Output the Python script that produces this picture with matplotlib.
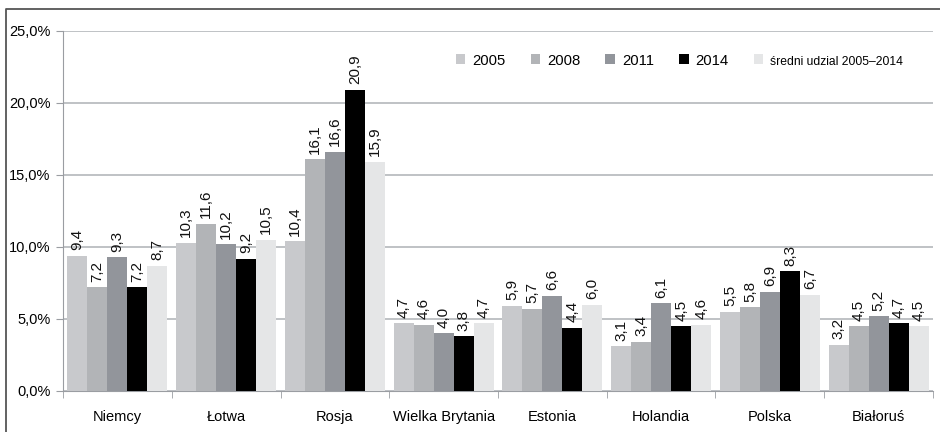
import numpy as np
import matplotlib.pyplot as plt
from matplotlib.lines import Line2D

plt.rcParams['font.family'] = ['Liberation Sans', 'DejaVu Sans']

countries = ['Niemcy', 'Łotwa', 'Rosja', 'Wielka Brytania', 'Estonia', 'Holandia', 'Polska', 'Białoruś']
series_names = ['2005', '2008', '2011', '2014', 'średni udzial 2005–2014']
v2005 = [9.4, 10.3, 10.4, 4.7, 5.9, 3.1, 5.5, 3.2]
v2008 = [7.2, 11.6, 16.1, 4.6, 5.7, 3.4, 5.8, 4.5]
v2011 = [9.3, 10.2, 16.6, 4.0, 6.6, 6.1, 6.9, 5.2]
v2014 = [7.2, 9.2, 20.9, 3.8, 4.4, 4.5, 8.3, 4.7]
vavg = [8.7, 10.5, 15.9, 4.7, 6.0, 4.6, 6.7, 4.5]
colors = ['#c8c9cc', '#b2b4b7', '#92959b', '#000000', '#e5e6e7']

fig = plt.figure(figsize=(9.4, 4.32), dpi=100)
ax = fig.add_axes([63 / 940, 1 - 391 / 432, 870 / 940, 360 / 432])

# outer frame: only top and left edges are visible in the picture
fig.add_artist(Line2D([6 / 940, 6 / 940, 1.0], [0.0, 1 - 9 / 432, 1 - 9 / 432],
                      transform=fig.transFigure, color='#555555', linewidth=1.3))

x = np.arange(len(countries))
w = 0.184
all_series = [v2005, v2008, v2011, v2014, vavg]
for i, vals in enumerate(all_series):
    pos = x + (i - 2) * w
    ax.bar(pos, vals, width=w, color=colors[i], label=series_names[i], zorder=3)
    for p, v in zip(pos, vals):
        ax.annotate(f'{v:.1f}'.replace('.', ','), (p, v), xytext=(0, 4), textcoords='offset points',
                    rotation=90, ha='center', va='bottom', fontsize=11, color='#111111')

ax.set_xlim(-0.5, len(countries) - 0.5)
ax.set_ylim(0, 25)
ax.set_yticks(np.arange(0, 26, 5))
ax.set_yticklabels([f'{t:.1f}%'.replace('.', ',') for t in np.arange(0, 26, 5)], fontsize=10.5)
ax.yaxis.grid(True, color='#b4b7bb', linewidth=1.2, zorder=0)
ax.set_axisbelow(True)

ax.set_xticks(x)
ax.set_xticklabels(countries, fontsize=10.5)
ax.set_xticks(np.arange(-0.5, len(countries), 1), minor=True)
ax.tick_params(axis='x', which='major', length=0, pad=14)
ax.tick_params(axis='x', which='minor', length=5, color='#9a9da2')
ax.tick_params(axis='y', length=5, color='#9a9da2', pad=4)

for s in ['top', 'right']:
    ax.spines[s].set_visible(False)
ax.spines['left'].set_color('#9a9da2')
ax.spines['bottom'].set_color('#9a9da2')

leg = ax.legend(loc='center right', bbox_to_anchor=(0.9655, 0.918), ncol=5, frameon=False, fontsize=10.7,
                handlelength=0.65, handleheight=0.65, handletextpad=0.45, columnspacing=1.7,
                borderpad=0, borderaxespad=0)
leg.get_texts()[-1].set_fontsize(8.7)

fig.savefig('out.png', dpi=100)
